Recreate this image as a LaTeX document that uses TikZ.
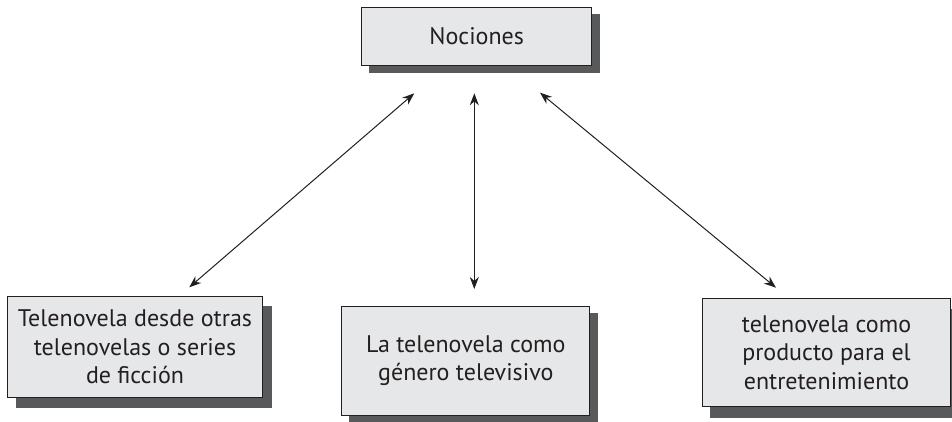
\documentclass[tikz,border=0pt]{standalone}
\usepackage{fontspec}
\setmainfont{PT Sans}
\usetikzlibrary{arrows.meta,backgrounds,calc}
\definecolor{boxfill}{HTML}{E6E7E8}
\definecolor{shadowgray}{HTML}{58595B}
\definecolor{inkc}{HTML}{231F20}
\begin{document}
\begin{tikzpicture}[x=1pt,y=-1pt,
  box/.style={draw=inkc,line width=1pt,fill=boxfill,text=inkc,align=center,
    font=\fontsize{24}{28.5}\selectfont,inner sep=0pt},
  link/.style={draw=inkc,line width=1pt,{Stealth[length=12pt,width=9pt]}-{Stealth[length=12pt,width=9pt]}}]
\useasboundingbox (0,0) rectangle (952,422);
\node[box,minimum width=230pt,minimum height=57.7pt] (top) at (476.7,36.2) {Nociones};
\node[box,minimum width=255.4pt,minimum height=101pt] (bl) at (135,347.2) {Telenovela desde otras\\telenovelas o series\\de ficción};
\node[box,minimum width=248.3pt,minimum height=109pt] (bm) at (465.8,360.5) {La telenovela como\\género televisivo};
\node[box,minimum width=248.4pt,minimum height=108.4pt] (br) at (826.5,352.5) {telenovela como\\producto para el\\entretenimiento};
\begin{scope}[on background layer]
  \foreach \n/\dx/\dy in {top/8/7, bl/9/10, bm/8/7, br/8/11}{
    \fill[shadowgray] ($(\n.south west)+(\dx,\dy)$) rectangle ($(\n.north east)+(\dx,\dy)$);
  }
\end{scope}
\coordinate (a1) at (414.3,93.3);
\coordinate (b1) at (189.3,287.3);
\coordinate (a2) at (474.3,93.3);
\coordinate (b2) at (474.3,289);
\coordinate (a3) at (540,92.7);
\coordinate (b3) at (776,287.7);
\draw[link] (a1) -- (b1);
\draw[link] (a2) -- (b2);
\draw[link] (a3) -- (b3);
\end{tikzpicture}
\end{document}
